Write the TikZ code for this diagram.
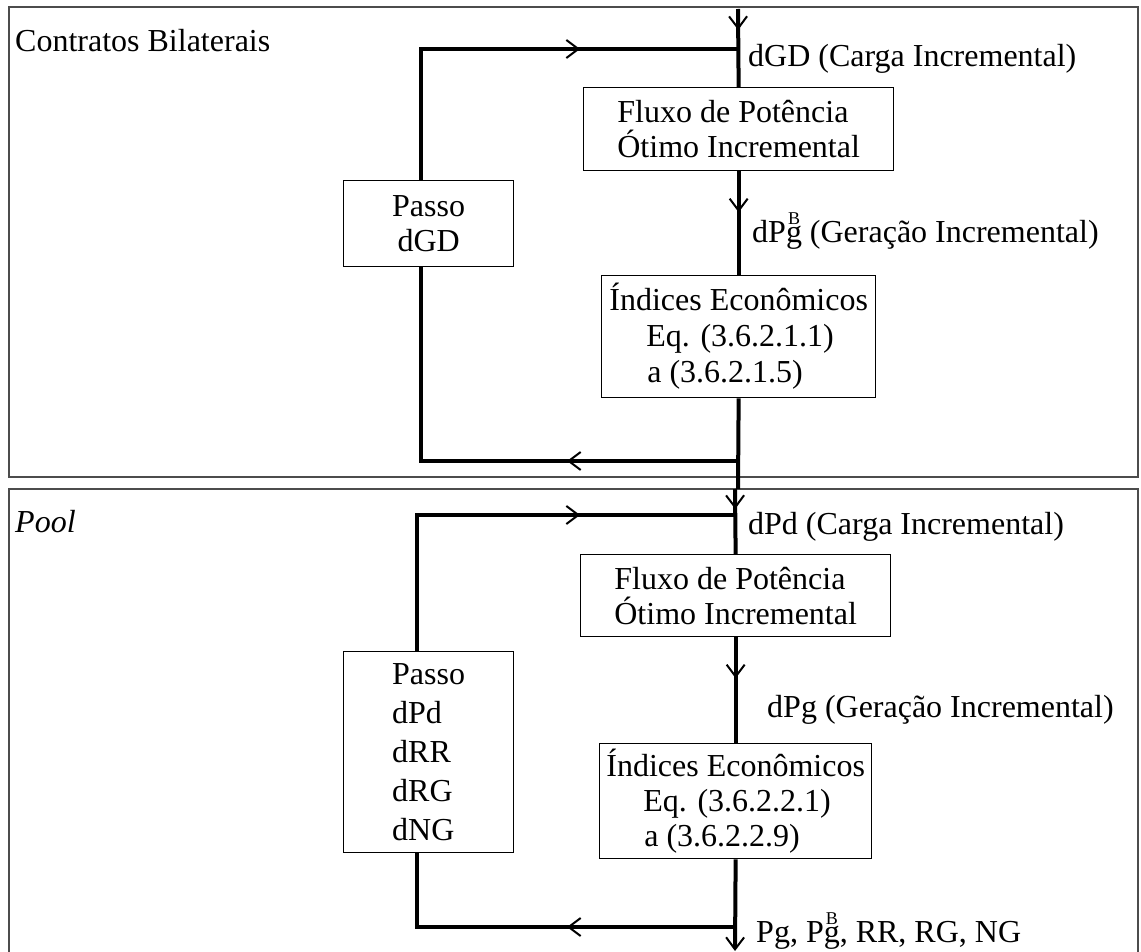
\documentclass[tikz,border=0pt]{standalone}
\usepackage{fontspec}
\setmainfont{Liberation Serif}
\usetikzlibrary{arrows.meta,decorations.markings}
\newcommand{\SupB}{\rlap{\hspace{2pt}\raisebox{18pt}{\fontsize{18}{18}\selectfont B}}}
\tikzset{
  frame/.style={draw=black!70, line width=2pt},
  flow/.style={line width=4pt, line cap=butt, line join=miter},
  box/.style={draw, line width=1.3pt, fill=white, inner sep=0pt, anchor=north west},
  lbl/.style={inner sep=0pt, anchor=base west},
  barb/.tip={Straight Barb[length=12pt,width=18pt,line width=2pt]},
  marr/.style={postaction={decorate,decoration={markings,mark=at position #1 with {\arrow{barb}}}}}
}
\begin{document}
\begin{tikzpicture}[x=1pt,y=-1pt,font=\fontsize{32}{35}\selectfont]
\useasboundingbox (0,0) rectangle (1141,952);
\fill[white] (0,0) rectangle (1141,952);
% frames
\draw[frame] (9,7) rectangle (1138,477);
\draw[frame] (9,952) -- (9,489) -- (1138,489) -- (1138,952);
% ---------- upper panel ----------
\node[box, minimum width=310pt, minimum height=83pt, align=left] (flux1) at (583,87)
  {Fluxo de Potência\\Ótimo Incremental};
\node[box, minimum width=274pt, minimum height=122pt, align=left,
      font=\fontsize{32}{36}\selectfont] (idx1) at (601,275)
  {Índices Econômicos\\\hspace*{37pt}Eq. (3.6.2.1.1)\\\hspace*{38pt}a (3.6.2.1.5)};
\node[box, minimum width=170pt, minimum height=86pt, align=center] (passo1) at (343,180)
  {Passo\\dGD};
\coordinate (top0) at (738,9);
\coordinate (j1) at (738,49);
\coordinate (tl1) at (421,49);
\coordinate (bl1) at (421,461);
\coordinate (jb1) at (738,461);
\coordinate (end1) at (738,489);
\draw[flow, marr=21pt] (top0) -- (flux1.north);
\draw[flow, marr=41pt] (flux1.south) -- (idx1.north);
\draw[flow] (idx1.south) -- (end1);
\draw[flow, marr=290pt] (tl1 |- passo1.north) -- (tl1) -- (j1);
\draw[flow, marr=171pt] (jb1) -- (bl1) -- (tl1 |- passo1.south);
\node[lbl] (t1) at (15,52) {Contratos Bilaterais};
\node[lbl] (t2) at (748,67) {dGD (Carga Incremental)};
\node[lbl] (t3) at (752,243) {dP\SupB g (Geração Incremental)};
% ---------- lower panel ----------
\node[box, minimum width=310pt, minimum height=82pt, align=left] (flux2) at (580,554)
  {Fluxo de Potência\\Ótimo Incremental};
\node[box, minimum width=272pt, minimum height=115pt, align=left,
      font=\fontsize{32}{35}\selectfont] (idx2) at (599,743)
  {Índices Econômicos\\\hspace*{37pt}Eq. (3.6.2.2.1)\\\hspace*{38pt}a (3.6.2.2.9)};
\node[box, minimum width=170pt, minimum height=201pt, align=left,
      font=\fontsize{32}{39}\selectfont] (passo2) at (343,651)
  {Passo\\dPd\\dRR\\dRG\\dNG};
\coordinate (top2) at (735,489);
\coordinate (j2) at (735,515);
\coordinate (tl2) at (417,515);
\coordinate (bl2) at (417,927);
\coordinate (jb2) at (735,927);
\coordinate (end2) at (735,951);
\draw[flow, marr=20pt] (top2) -- (flux2.north);
\draw[flow, marr=41pt] (flux2.south) -- (idx2.north);
\draw[flow, -barb] (idx2.south) -- (end2);
\draw[flow, marr=299pt] (tl2 |- passo2.north) -- (tl2) -- (j2);
\draw[flow, marr=168pt] (jb2) -- (bl2) -- (tl2 |- passo2.south);
\node[lbl] (t4) at (15,532) {\itshape Pool};
\node[lbl] (t5) at (748,534) {dPd (Carga Incremental)};
\node[lbl] (t6) at (767,717) {dPg (Geração Incremental)};
\node[lbl] (t7) at (756,942) {Pg, P\SupB g, RR, RG, NG};
\end{tikzpicture}
\end{document}
